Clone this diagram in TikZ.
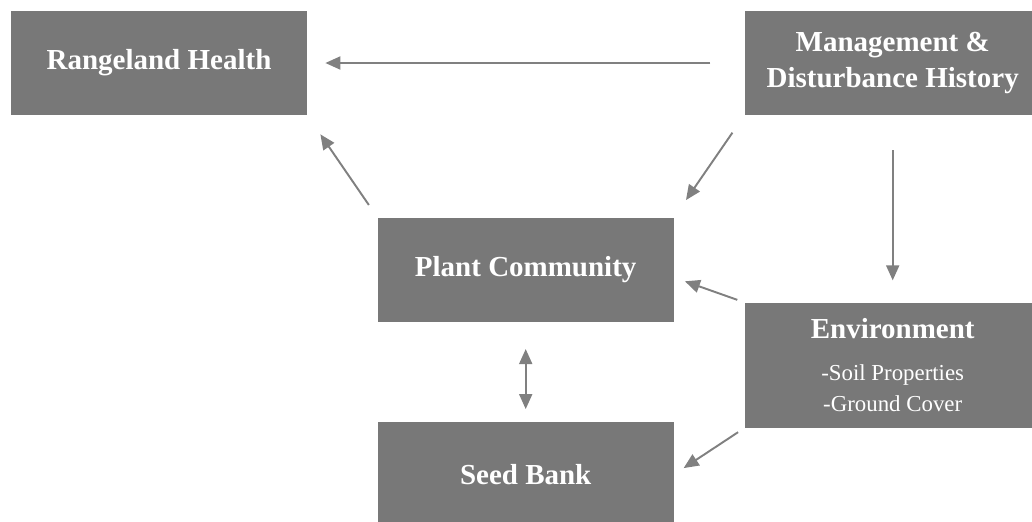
\documentclass[tikz,border=0pt]{standalone}
\usepackage{fontspec}
\setmainfont{Liberation Serif}
\usepackage{xcolor}
\usepackage{tikz}
\usetikzlibrary{arrows.meta, positioning}
\definecolor{boxgray}{RGB}{120,120,120}
\definecolor{linkgray}{RGB}{128,128,128}
\tikzstyle{factor} = [rectangle, minimum width=5.92cm, minimum height=2.08cm, inner sep=0pt, text centered, align=center, fill=boxgray, text=white, font=\fontsize{16.5}{21}\selectfont\bfseries]
\tikzstyle{arrow} = [line width=1.1pt, draw=linkgray, -{Triangle[length=0.3cm, width=0.26cm]}]

\begin{document}
\begin{tikzpicture}
    \useasboundingbox (0,0) rectangle (20.64,-10.42);

    % Top row
    \node[factor] (health) at (3.18,-1.26) {Rangeland Health};
    \node[factor, right=8.74cm of health] (history) {Management \&\\Disturbance History};

    % Middle column
    \node[factor, below right=2.04cm and 1.4cm of health] (plants) {Plant Community};
    \node[factor, below=2cm of plants] (seeds) {Seed Bank};

    % Environment
    \node[factor, minimum height=2.5cm, below=3.74cm of history] (env) {Environment\\[3pt]
        {\fontsize{13}{17}\selectfont\mdseries -Soil Properties}\\[-3.5pt]
        {\fontsize{13}{17}\selectfont\mdseries -Ground Cover}};

    % Connections
    \draw[arrow, shorten <=0.68cm, shorten >=0.36cm] (history.west) -- (health.east);
    \draw[arrow, shorten <=0.42cm, shorten >=0.42cm] (history.south west) -- (plants.north east);
    \draw[arrow, shorten <=0.3cm, shorten >=0.46cm] (plants.north west) -- (health.south east);
    \draw[arrow, shorten <=0.7cm, shorten >=0.44cm] (history.south) -- (env.north);
    \draw[arrow, shorten <=0.15cm, shorten >=0.23cm] (env.north west) -- (plants.-3);
    \draw[arrow, shorten <=0.15cm, shorten >=0.23cm] (env.south west) -- (seeds.east);
    \draw[arrow, {Triangle[length=0.3cm, width=0.26cm]}-{Triangle[length=0.3cm, width=0.26cm]}, shorten <=0.54cm, shorten >=0.26cm] (plants.south) -- (seeds.north);
\end{tikzpicture}
\end{document}
